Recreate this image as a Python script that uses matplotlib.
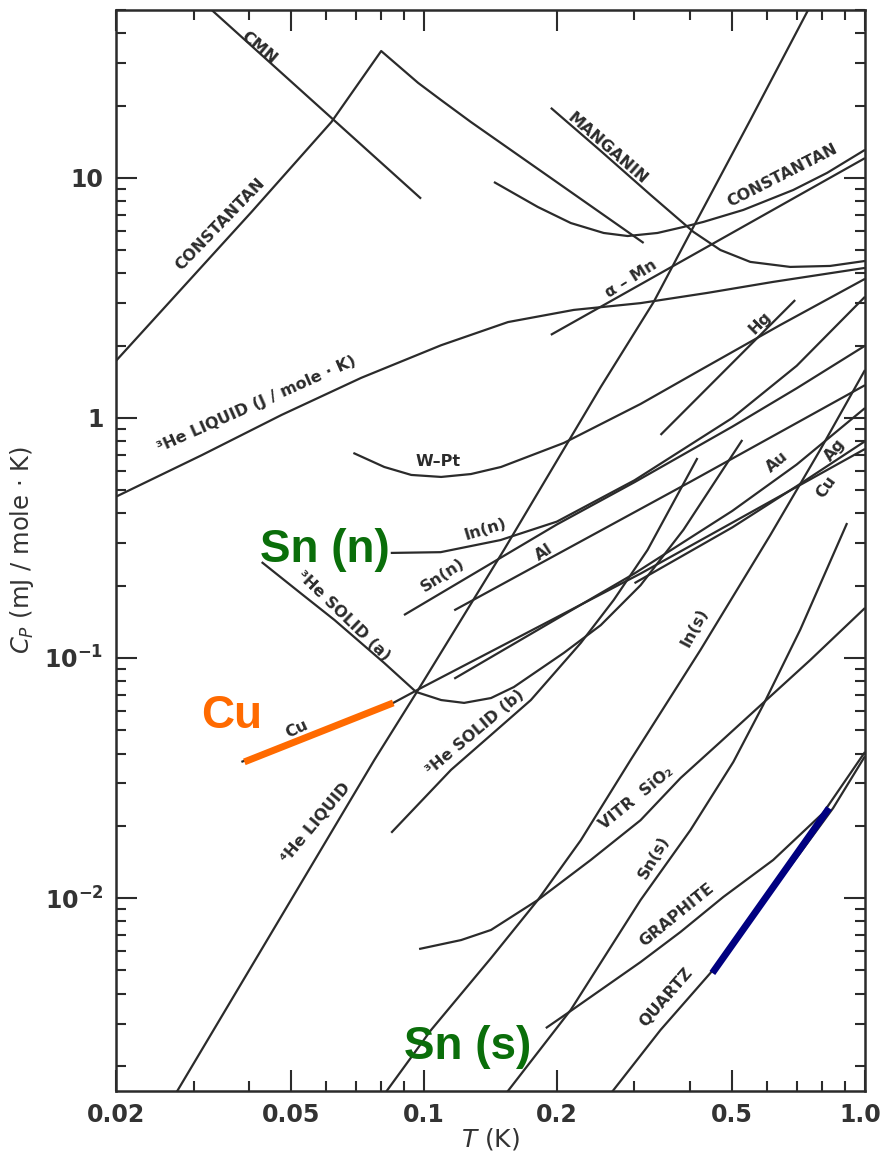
import matplotlib
matplotlib.use("Agg")
import matplotlib.pyplot as plt
import matplotlib.transforms as mtransforms
from matplotlib.ticker import LogLocator, NullFormatter
import numpy as np

# values: T in K, Cp in mJ/(mole K)
cmn_T = [0.0313, 0.0984]
cmn_C = [54.6, 8.2]

constantan_lo_T = [0.0200, 0.0406, 0.0616, 0.0799, 0.0969, 0.1093, 0.1277, 0.2042, 0.3147]
constantan_lo_C = [1.73, 7.22, 17.1, 33.8, 24.9, 21.1, 17.1, 9.35, 5.36]

manganin_T = [0.1938, 0.2515, 0.3263, 0.4082, 0.4699, 0.5493, 0.6766, 0.8334, 1.0]
manganin_C = [19.6, 12.96, 8.5, 5.96, 5.01, 4.47, 4.26, 4.30, 4.51]

constantan_hi_T = [0.1440, 0.1811, 0.2151, 0.2554, 0.2894, 0.3383, 0.3874, 0.430, 0.5297, 0.6873, 0.8204, 1.0]
constantan_hi_C = [9.62, 7.57, 6.49, 5.90, 5.73, 5.90, 6.25, 6.56, 7.36, 8.91, 10.5, 13.1]

amn_T = [0.1938, 1.0]
amn_C = [2.22, 12.1]

he4_liq_T = [0.0261, 0.0771, 0.0969, 0.1517, 0.2515, 0.3315, 0.408, 0.549, 0.743, 0.771]
he4_liq_C = [0.00133, 0.0376, 0.0736, 0.282, 1.346, 3.04, 6.25, 17.4, 50.1, 56.2]

he3_liq_T = [0.0200, 0.0313, 0.0475, 0.0720, 0.1093, 0.155, 0.2185, 0.3097, 0.439, 0.619, 1.0]
he3_liq_C = [0.47, 0.70, 1.03, 1.47, 2.01, 2.51, 2.82, 3.01, 3.32, 3.69, 4.22]

wpt_T = [0.0691, 0.0812, 0.0935, 0.1093, 0.1277, 0.1494, 0.2074, 0.3097, 0.4234, 0.6423, 1.0]
wpt_C = [0.715, 0.625, 0.579, 0.568, 0.584, 0.625, 0.787, 1.144, 1.585, 2.44, 3.80]

hg_T = [0.3437, 0.6944]
hg_C = [0.85, 3.10]

in_n_T = [0.084, 0.109, 0.149, 0.2, 0.3, 0.5, 0.7, 1.0]
in_n_C = [0.274, 0.276, 0.31, 0.37, 0.55, 1.0, 1.65, 3.2]

sn_n_T = [0.090, 0.2, 0.3, 0.5, 0.7, 1.0]
sn_n_C = [0.151, 0.36, 0.54, 0.92, 1.33, 2.0]

al_T = [0.117, 0.4, 1.0]
al_C = [0.158, 0.54, 1.37]

he3_sol_a_T = [0.0428, 0.0527, 0.0626, 0.0812, 0.0959, 0.1093, 0.1232, 0.1418, 0.1598, 0.2074, 0.2515, 0.3097, 0.3874, 0.5268]
he3_sol_a_C = [0.251, 0.185, 0.144, 0.0953, 0.0722, 0.0668, 0.065, 0.0681, 0.0757, 0.105, 0.137, 0.201, 0.342, 0.81]

he3_sol_b_T = [0.0842, 0.1151, 0.1418, 0.1746, 0.2266, 0.2692, 0.3212, 0.4168]
he3_sol_b_C = [0.0187, 0.0342, 0.0478, 0.0668, 0.1155, 0.1745, 0.282, 0.681]

cu_T = [0.0385, 0.0851, 0.0984, 0.31, 1.0]
cu_C = [0.0369, 0.065, 0.075, 0.225, 0.743]

au_T = [0.117, 0.3, 0.5, 0.7, 1.0]
au_C = [0.082, 0.225, 0.41, 0.64, 1.1]

ag_T = [0.3, 0.5, 0.7, 1.0]
ag_C = [0.205, 0.35, 0.52, 0.80]

vitr_T = [0.0974, 0.1213, 0.1418, 0.1811, 0.2387, 0.3097, 0.3815, 0.4699, 0.5876, 0.751, 1.0]
vitr_C = [0.00613, 0.00668, 0.00736, 0.00981, 0.0144, 0.0211, 0.0316, 0.0447, 0.065, 0.098, 0.1616]

in_s_T = [0.0779, 0.1037, 0.1418, 0.1811, 0.2266, 0.294, 0.4234, 0.6097, 0.7911, 1.0]
in_s_C = [0.00137, 0.00282, 0.00562, 0.00981, 0.0174, 0.0376, 0.108, 0.325, 0.736, 1.585]

sn_s_T = [0.1486, 0.1549, 0.2151, 0.3097, 0.4019, 0.5028, 0.5876, 0.7128, 0.9107]
sn_s_C = [0.00143, 0.00157, 0.00342, 0.00981, 0.0192, 0.0369, 0.0637, 0.131, 0.365]

graphite_T = [0.1888, 0.2118, 0.2515, 0.3097, 0.3815, 0.4771, 0.619, 0.8035, 1.0]
graphite_C = [0.00287, 0.00332, 0.00414, 0.00541, 0.00722, 0.0101, 0.0144, 0.0226, 0.0406]

quartz_T = [0.2581, 0.3437, 0.4460, 0.5787, 0.7128, 0.8467, 1.0]
quartz_C = [0.00144, 0.00282, 0.00487, 0.00927, 0.0154, 0.0237, 0.039]

# coloured highlight strokes
cu_mark_T = [0.0391, 0.0851]
cu_mark_C = [0.0369, 0.065]
quartz_mark_T = [0.4506, 0.829]
quartz_mark_C = [0.00487, 0.0237]

x_ticks = [0.02, 0.05, 0.1, 0.2, 0.5, 1.0]
x_tick_labels = ['0.02', '0.05', '0.1', '0.2', '0.5', '1.0']
x_minor = [0.03, 0.04, 0.06, 0.07, 0.08, 0.09, 0.3, 0.4, 0.6, 0.7, 0.8, 0.9]
y_ticks = [0.01, 0.1, 1, 10]
y_tick_labels = [r'$\mathbf{10^{-2}}$', r'$\mathbf{10^{-1}}$', '1', '10']

ink = '#2b2b2b'

fig = plt.figure(figsize=(8.8, 11.56), dpi=100)
ax = fig.add_axes([116/880, 65/1156, 749/880, 1081/1156])
ax.set_xscale('log')
ax.set_yscale('log')
ax.set_xlim(0.02, 1.0)
ax.set_ylim(0.00157, 50.1)

curves = [
    (cmn_T, cmn_C), (constantan_lo_T, constantan_lo_C), (manganin_T, manganin_C),
    (constantan_hi_T, constantan_hi_C), (amn_T, amn_C), (he4_liq_T, he4_liq_C),
    (he3_liq_T, he3_liq_C), (wpt_T, wpt_C), (hg_T, hg_C), (in_n_T, in_n_C),
    (sn_n_T, sn_n_C), (al_T, al_C), (he3_sol_a_T, he3_sol_a_C), (he3_sol_b_T, he3_sol_b_C),
    (cu_T, cu_C), (au_T, au_C), (ag_T, ag_C), (vitr_T, vitr_C), (in_s_T, in_s_C),
    (sn_s_T, sn_s_C), (graphite_T, graphite_C), (quartz_T, quartz_C),
]
for T, C in curves:
    ax.plot(T, C, color=ink, lw=1.6, solid_capstyle='butt')

ax.plot(cu_mark_T, cu_mark_C, color='#ff6a00', lw=5, solid_capstyle='butt')
ax.plot(quartz_mark_T, quartz_mark_C, color='#000080', lw=5, solid_capstyle='butt')

# curve names along the lines
lab = dict(color=ink, fontsize=11.5, fontweight='bold', ha='center', va='center')
ax.text(0.0423, 34.8, 'CMN', rotation=-40, **lab)
ax.text(0.0345, 6.4, 'CONSTANTAN', rotation=46, **lab)
ax.text(0.2608, 13.3, 'MANGANIN', rotation=-41, **lab)
ax.text(0.649, 10.2, 'CONSTANTAN', rotation=27, **lab)
ax.text(0.294, 3.8, 'α – Mn', rotation=32, **lab)
ax.text(0.5787, 2.49, 'Hg', rotation=45, **lab)
ax.text(0.0417, 1.14, '³He LIQUID (J / mole · K)', rotation=24, **lab)
ax.text(0.1076, 0.66, 'W–Pt', rotation=0, **lab)
ax.text(0.138, 0.342, 'In(n)', rotation=17, **lab)
ax.text(0.1100, 0.222, 'Sn(n)', rotation=33, **lab)
ax.text(0.1868, 0.275, 'Al', rotation=33, **lab)
ax.text(0.0656, 0.150, '³He SOLID (a)', rotation=-44, **lab)
ax.text(0.0513, 0.0505, 'Cu', rotation=25, **lab)
ax.text(0.632, 0.655, 'Au', rotation=40, **lab)
ax.text(0.855, 0.735, 'Ag', rotation=50, **lab)
ax.text(0.8164, 0.516, 'Cu', rotation=55, **lab)
ax.text(0.1304, 0.0492, '³He SOLID (b)', rotation=40, **lab)
ax.text(0.0567, 0.0205, '⁴He LIQUID', rotation=50, **lab)
ax.text(0.4100, 0.1334, 'In(s)', rotation=62, **lab)
ax.text(0.3033, 0.0261, 'VITR  SiO₂', rotation=39, **lab)
ax.text(0.3320, 0.0147, 'Sn(s)', rotation=60, **lab)
ax.text(0.3737, 0.0085, 'GRAPHITE', rotation=39, **lab)
ax.text(0.3546, 0.00387, 'QUARTZ', rotation=49, **lab)

# big coloured annotations
big = dict(fontsize=33, fontweight='bold', family='Liberation Sans', ha='center', va='center')
ax.text(0.0594, 0.282, 'Sn (n)', color='#0a6e0a', **big)
ax.text(0.1257, 0.00239, 'Sn (s)', color='#0a6e0a', **big)
ax.text(0.0366, 0.0573, 'Cu', color='#ff6a00', **big)

# axes and ticks
ax.set_xticks(x_ticks)
ax.set_xticklabels(x_tick_labels)
ax.set_xticks(x_minor, minor=True)
ax.xaxis.set_minor_formatter(NullFormatter())
ax.set_yticks(y_ticks)
ax.set_yticklabels(y_tick_labels)
ax.yaxis.set_minor_locator(LogLocator(base=10, subs=np.arange(2, 10)))
ax.yaxis.set_minor_formatter(NullFormatter())

ax.tick_params(which='both', direction='in', top=True, right=True, colors=ink, width=1.5)
ax.tick_params(which='major', length=15, pad=9)
ax.tick_params(which='minor', length=7)
ax.tick_params(axis='x', which='major', labelsize=17)
ax.tick_params(axis='y', which='major', labelsize=17)
for t in ax.get_xticklabels() + ax.get_yticklabels():
    t.set_fontweight('bold')
    t.set_color('#333333')
# last x label sits at the right edge; nudge it in a little
last = ax.get_xticklabels()[-1]
last.set_transform(last.get_transform() + mtransforms.ScaledTranslation(-5/100, 0, fig.dpi_scale_trans))

for s in ax.spines.values():
    s.set_linewidth(1.8)
    s.set_color(ink)

ax.set_ylabel('$C_P$ (mJ / mole · K)', fontsize=17.5, color='#333333')
ax.yaxis.set_label_coords(-0.107, 0.5)
ax.set_xlabel('$T$ (K)', fontsize=18, color='#333333')
ax.xaxis.set_label_coords(0.5, -0.032)

fig.savefig('out.png', dpi=100)
